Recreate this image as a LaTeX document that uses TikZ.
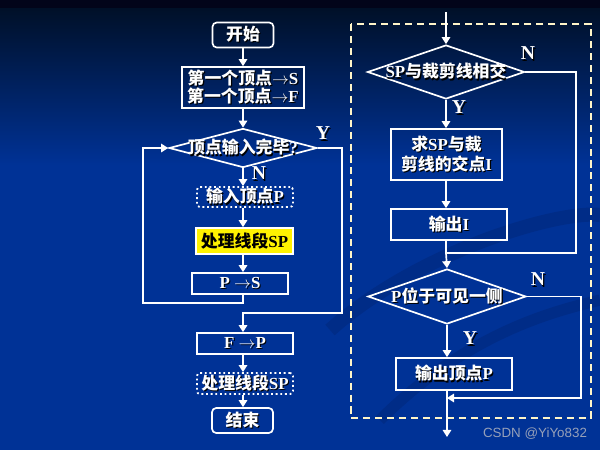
\documentclass[tikz,border=0pt]{standalone}
\usepackage{fontspec}
\setmainfont{Liberation Serif}
\newfontfamily\cjk{Noto Sans CJK SC}
\newfontfamily\wmfont{Liberation Sans}
\usetikzlibrary{arrows.meta,shapes.geometric,calc}
\definecolor{bgtop}{RGB}{2,4,26}
\definecolor{bgmid}{RGB}{0,16,40}
\definecolor{bgblue}{RGB}{0,50,150}
\definecolor{swoosh}{RGB}{0,40,125}
\definecolor{cream}{RGB}{255,245,200}
\definecolor{wmgray}{RGB}{150,160,185}
\newcommand\zh[1]{{\cjk #1}}
\newcommand\shd[1]{\makebox[0pt][l]{\hspace{0.8pt}\raisebox{-0.8pt}{\textcolor{black}{#1}}}#1}
\tikzset{
  sz/.style 2 args={minimum width=#1*0.025cm, minimum height=#2*0.025cm},
  base/.style={inner sep=0pt, text=white, font=\bfseries\fontsize{12}{15}\selectfont, align=center},
  boxn/.style={base, draw=white, line width=1.2pt},
  rbox/.style={boxn, rounded corners=3pt},
  dbox/.style={base, draw=white, line width=1.3pt, dotted, rounded corners=2pt},
  dia/.style={diamond, draw=white, line width=1.2pt, inner sep=0pt},
  txt/.style={base},
  lab/.style={inner sep=0pt, text=white, font=\bfseries\fontsize{14}{16}\selectfont},
  arr/.style={draw=white, line width=1.2pt, -{Triangle[length=5pt,width=6pt]}},
  ln/.style={draw=white, line width=1.2pt},
}
\begin{document}
\begin{tikzpicture}[x=0.025cm, y=-0.025cm]
\useasboundingbox (0,0) rectangle (600,450);
% background
\fill[bgblue] (0,0) rectangle (600,450);
\shade[top color=bgmid, bottom color=bgblue] (0,8) rectangle (600,165);
\fill[bgtop] (0,0) rectangle (600,8);
\draw[swoosh, line width=10pt, opacity=0.6] (330,330) .. controls (420,250) and (560,210) .. (600,215);
\draw[swoosh, line width=8pt, opacity=0.6] (380,420) .. controls (470,330) and (560,310) .. (600,300);

% left column
\node[rbox, sz={61}{25}] (start) at (243,35) {\shd{\zh{开始}}};
\node[boxn, sz={122}{41}] (init) at (243,87.5) {\shd{\zh{第一个顶点}$\rightarrow$S}\\[-2pt]\shd{\zh{第一个顶点}$\rightarrow$F}};
\node[dia, sz={148}{39}] (d1) at (243,148) {};
\node[txt] (d1t) at (d1) {\shd{\zh{顶点输入完毕}?}};
\node[dbox, sz={96}{20}] (inP) at (245,197) {\shd{\zh{输入顶点}P}};
\node[boxn, fill=yellow, text=black, sz={97}{26}] (proc) at (244.5,241) {\zh{处理线段}SP};
\node[boxn, sz={96}{21}] (PS) at (240,283.5) {\shd{P $\rightarrow$S}};
\node[boxn, sz={96}{21}] (FP) at (245,343.5) {\shd{F $\rightarrow$P}};
\node[dbox, sz={96}{21}] (proc2) at (245,383.5) {\shd{\zh{处理线段}SP}};
\node[rbox, sz={61}{25}] (end) at (242.5,420.5) {\shd{\zh{结束}}};

\node[lab] (y1) at (323,134) {\shd{Y}};
\node[lab] (n1) at (259,174) {\shd{N}};

\coordinate (lb) at (143,303);
\coordinate (yr) at (342,313);

\draw[arr] (start) -- (init);
\draw[arr] (init) -- (d1.north);
\draw[arr] (d1.south) -- (d1.south |- inP.north);
\draw[arr] (d1.south |- inP.south) -- (d1.south |- proc.north);
\draw[arr] (d1.south |- proc.south) -- (d1.south |- PS.north);
\draw[arr] (d1.south |- PS.south) |- (lb) |- (d1.west);
\draw[arr] (d1.east) -| (yr) -| (d1.south |- FP.north);
\draw[arr] (d1.south |- FP.south) -- (d1.south |- proc2.north);
\draw[arr] (d1.south |- proc2.south) -- (d1.south |- end.north);

% right side
\draw[cream, line width=1.5pt, dash pattern=on 5pt off 3.5pt] (351,24) rectangle (591,418);

\coordinate (top) at (446,12);
\node[dia, sz={157}{54}] (d2) at (446,72) {};
\node[txt] (d2t) at (d2) {\shd{SP\zh{与裁剪线相交}}};
\node[boxn, sz={111}{51}] (isect) at (446.5,154.5) {\shd{\zh{求}SP\zh{与裁}}\\[-1pt]\shd{\zh{剪线的交点}I}};
\node[boxn, sz={116}{31}] (outI) at (449,224.5) {\shd{\zh{输出}I}};
\node[dia, sz={158}{55}] (d3) at (447,296.5) {};
\node[txt] (d3t) at (d3) {\shd{P\zh{位于可见一侧}}};
\node[boxn, sz={116}{32}] (outP) at (454,374) {\shd{\zh{输出顶点}P}};

\node[lab] (n2) at (528,54) {\shd{N}};
\node[lab] (y2) at (459,108) {\shd{Y}};
\node[lab] (n3) at (538,280) {\shd{N}};
\node[lab] (y3) at (470,339) {\shd{Y}};

\coordinate (nr1) at (576,253);
\coordinate (j1) at (447,253);
\coordinate (nr2) at (581,398);
\coordinate (j2) at (447,398);
\coordinate (exit) at (447,437);

\draw[arr] (top -| d2.north) -- (d2.north);
\draw[arr] (d2.south) -- (d2.south |- isect.north);
\draw[arr] (d2.south |- isect.south) -- (d2.south |- outI.north);
\draw[ln] (d2.south |- outI.south) -- (d2.south |- j1);
\draw[ln] (d2.east) -| (nr1) -- (d2.south |- j1);
\draw[arr] (d2.south |- j1) -- (d3.north);
\draw[arr] (d3.south) -- (d3.south |- outP.north);
\draw[arr] (d3.east) -| (nr2) -- (j2);
\draw[arr] (d3.south |- outP.south) -- (exit);

\node[inner sep=0pt, text=wmgray, font=\wmfont\fontsize{9.5}{11}\selectfont] (wm) at (535,434) {CSDN @YiYo832};
\end{tikzpicture}
\end{document}
